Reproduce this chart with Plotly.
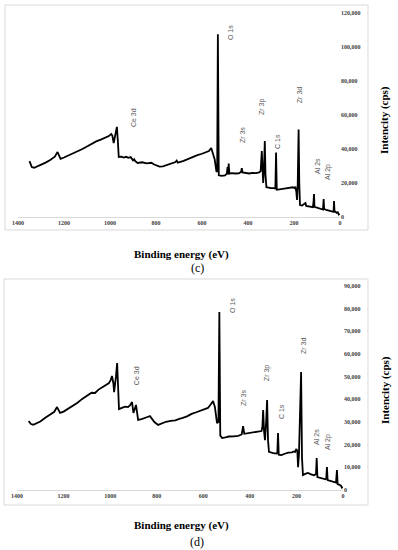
import plotly.graph_objects as go

W, H = 398, 550

# ---------------- data (c) ----------------
ev_c = [1350, 1345, 1340, 1330, 1320, 1300, 1280, 1260, 1240, 1228, 1222, 1215, 1200, 1180, 1160,
        1140, 1120, 1100, 1085, 1070, 1060, 1040, 1020, 1005, 995, 990, 984, 975, 970, 966, 962,
        950, 940, 930, 920, 910, 900, 895, 890, 880, 860, 840, 820, 810, 795, 785, 770, 750, 730,
        715, 710, 705, 680, 660, 640, 620, 600, 585, 570, 560, 553, 545, 537, 534, 531, 527, 515,
        500, 492, 489, 486, 484, 481, 470, 455, 440, 430, 427, 424, 410, 395, 380, 365, 352, 345,
        340, 337, 334, 330, 327, 324, 320, 300, 285, 281, 278, 275, 265, 250, 230, 215, 205, 198,
        194, 190, 187, 184, 180, 177, 174, 165, 155, 150, 147, 135, 125, 118, 115, 113, 111, 100,
        90, 80, 74, 71, 69, 60, 45, 35, 28, 26, 24, 15, 10, 5, 2]
cps_c = [32900, 30500, 29400, 29000, 29600, 30500, 32000, 33500, 35500, 38200, 36000, 34200, 35000,
         36200, 37300, 38600, 40000, 41500, 42800, 44000, 44500, 45500, 46800, 47600, 48800, 48000,
         43500, 49000, 53000, 45000, 35300, 35500, 35000, 35400, 34800, 35200, 33300, 34000, 32800,
         31800, 32200, 31600, 31900, 31000, 30200, 29600, 29800, 30800, 31500, 32300, 33200, 32000,
         33000, 34200, 35200, 36400, 37200, 37800, 38800, 40600, 38000, 34000, 26500, 27000, 107500,
         24500, 24200, 24500, 25500, 29400, 25000, 31500, 25500, 25800, 25600, 25700, 26500, 28800,
         26200, 26000, 25600, 26000, 25800, 26200, 27000, 38800, 25000, 20000, 30000, 44700, 25000,
         17500, 17000, 17000, 16500, 38000, 16000, 16200, 16700, 16800, 17200, 17500, 17000, 17800,
         15000, 10000, 18000, 51500, 20000, 7000, 6800, 7500, 8200, 6500, 6200, 6000, 5800, 9000,
         13500, 6000, 5600, 5000, 4800, 4400, 10600, 4700, 4200, 3800, 3500, 3000, 9400, 3500, 2500,
         2800, 1500, 2000]

# ---------------- data (d) ----------------
ev_d = [1350, 1345, 1340, 1330, 1320, 1300, 1280, 1260, 1240, 1228, 1222, 1215, 1200, 1180, 1160,
        1140, 1120, 1100, 1080, 1065, 1050, 1030, 1015, 1005, 998, 992, 986, 983, 975, 970, 966,
        962, 950, 935, 923, 915, 906, 900, 895, 889, 884, 880, 865, 850, 840, 829, 822, 810, 794,
        780, 760, 740, 720, 700, 691, 670, 650, 630, 610, 590, 580, 570, 558, 550, 541, 535, 531,
        527, 519, 505, 490, 470, 450, 435, 429, 424, 410, 390, 370, 356, 350, 346, 343, 339, 335,
        330, 326, 322, 318, 300, 285, 282, 279, 276, 265, 250, 235, 220, 210, 206, 200, 196, 193,
        189, 180, 176, 172, 160, 150, 140, 125, 116, 113, 110, 100, 85, 75, 72, 69, 66, 55, 40, 30,
        26, 23, 15, 8, 5, 2]
cps_d = [30400, 29800, 29100, 28800, 29300, 30200, 31800, 33200, 34500, 36600, 35000, 34000, 34600,
         35900, 37200, 38500, 40200, 41600, 42900, 42800, 44300, 45600, 46700, 47200, 48500, 50300,
         47000, 43200, 50000, 56000, 46000, 35700, 36200, 36800, 36600, 37300, 38800, 34000, 35500,
         37500, 34000, 30900, 31300, 31700, 32200, 32600, 31500, 30000, 28700, 29400, 30100, 30500,
         30700, 31500, 31700, 32500, 33600, 34300, 35200, 36000, 36200, 37500, 39300, 36500, 29500,
         30000, 78500, 24000, 22900, 23200, 23600, 23700, 23900, 24500, 28200, 24800, 25000, 25300,
         25400, 25600, 26000, 28000, 35300, 26000, 22000, 30000, 39700, 22000, 16800, 16300, 16100,
         16500, 25100, 15600, 15400, 16000, 16500, 16600, 17000, 16800, 18100, 17000, 10100, 16000,
         52000, 14000, 6600, 7200, 7500, 7000, 6500, 7000, 14100, 5700, 5500, 5200, 4700, 5000,
         10100, 4400, 4100, 3600, 3300, 8800, 2600, 2300, 1800, 1100, 1500]

x_ticks = [1400, 1200, 1000, 800, 600, 400, 200, 0]
y_ticks_c = [0, 20000, 40000, 60000, 80000, 100000, 120000]
y_ticks_d = [0, 10000, 20000, 30000, 40000, 50000, 60000, 70000, 80000, 90000]

labels = ["Ce 3d", "O 1s", "Zr 3s", "Zr 3p", "C 1s", "Zr 3d", "Al 2s", "Al 2p"]
lab_ev_c = [900, 478, 426, 339, 274, 178, 100, 52]
lab_y_c = [58200, 108200, 48200, 64700, 44700, 71700, 30000, 26500]
lab_ev_d = [884, 477, 425, 326, 266, 172, 112, 64]
lab_y_d = [50300, 81600, 40600, 51600, 34400, 63500, 23400, 21200]


def px(v):
    return v / W


def py(v):
    return 1 - v / H


fig = go.Figure()
fig.add_trace(go.Scatter(x=ev_c, y=cps_c, mode="lines", line=dict(color="black", width=1.8),
                         xaxis="x", yaxis="y", showlegend=False, hoverinfo="skip"))
fig.add_trace(go.Scatter(x=ev_d, y=cps_d, mode="lines", line=dict(color="black", width=1.8),
                         xaxis="x2", yaxis="y2", showlegend=False, hoverinfo="skip"))

tickfont = dict(family="Liberation Serif", size=6, color="#404040", weight="bold")

xcommon = dict(range=[1400, 0], tickvals=x_ticks, ticktext=[str(t) for t in x_ticks],
               showgrid=False, zeroline=False, showline=True, linecolor="#d9d9d9", linewidth=1,
               ticks="", tickfont=tickfont, automargin=False, fixedrange=True)

fig.update_layout(
    template="none",
    width=W, height=H,
    margin=dict(l=0, r=0, t=0, b=0),
    paper_bgcolor="white", plot_bgcolor="white",
    showlegend=False,
    xaxis=dict(domain=[px(18), px(340)], anchor="y", **xcommon),
    yaxis=dict(domain=[py(217), py(13)], anchor="x", side="right", range=[0, 120000],
               tickvals=y_ticks_c, ticktext=[f"{v:,}" for v in y_ticks_c],
               showgrid=False, zeroline=False, showline=False, ticks="",
               tickfont=tickfont, automargin=False, fixedrange=True),
    xaxis2=dict(domain=[px(17), px(343)], anchor="y2", **xcommon),
    yaxis2=dict(domain=[py(490), py(286)], anchor="x2", side="right", range=[0, 90000],
                tickvals=y_ticks_d, ticktext=[f"{v:,}" for v in y_ticks_d],
                showgrid=False, zeroline=False, showline=False, ticks="",
                tickfont=tickfont, automargin=False, fixedrange=True),
)

# chart-area borders
fig.add_shape(type="rect", xref="paper", yref="paper", x0=px(5), x1=px(368), y0=py(230), y1=py(5),
              line=dict(color="#d9d9d9", width=1), fillcolor="rgba(0,0,0,0)", layer="below")
fig.add_shape(type="rect", xref="paper", yref="paper", x0=px(4), x1=px(368), y0=py(505), y1=py(279),
              line=dict(color="#d9d9d9", width=1), fillcolor="rgba(0,0,0,0)", layer="below")

labfont = dict(family="Liberation Sans", size=7, color="#595959")
for t, xv, yv in zip(labels, lab_ev_c, lab_y_c):
    fig.add_annotation(x=xv, y=yv, xref="x", yref="y", text=t, textangle=-90, showarrow=False,
                       font=labfont, xanchor="center", yanchor="middle")
for t, xv, yv in zip(labels, lab_ev_d, lab_y_d):
    fig.add_annotation(x=xv, y=yv, xref="x2", yref="y2", text=t, textangle=-90, showarrow=False,
                       font=labfont, xanchor="center", yanchor="middle")

titlefont = dict(family="Liberation Serif", size=11, color="black", weight="bold")
for cy, ty, tag, ly in [(120, 254, "(c)", 268), (390, 525, "(d)", 542)]:
    fig.add_annotation(x=px(385), y=py(cy), xref="paper", yref="paper", text="Intencity (cps)",
                       textangle=-90, showarrow=False, font=titlefont,
                       xanchor="center", yanchor="middle")
    fig.add_annotation(x=px(181.5), y=py(ty), xref="paper", yref="paper", text="Binding energy (eV)",
                       showarrow=False, font=titlefont, xanchor="center", yanchor="middle")
    fig.add_annotation(x=px(197), y=py(ly), xref="paper", yref="paper", text=tag,
                       showarrow=False, font=dict(family="Liberation Serif", size=12, color="black"),
                       xanchor="center", yanchor="middle")

fig.write_html(
    "out.html",
    config={"displayModeBar": False, "staticPlot": True},
    post_script="document.body.style.margin='0';document.body.style.padding='0';"
                "document.body.style.overflow='hidden';"
                "document.documentElement.style.overflow='hidden';",
)
